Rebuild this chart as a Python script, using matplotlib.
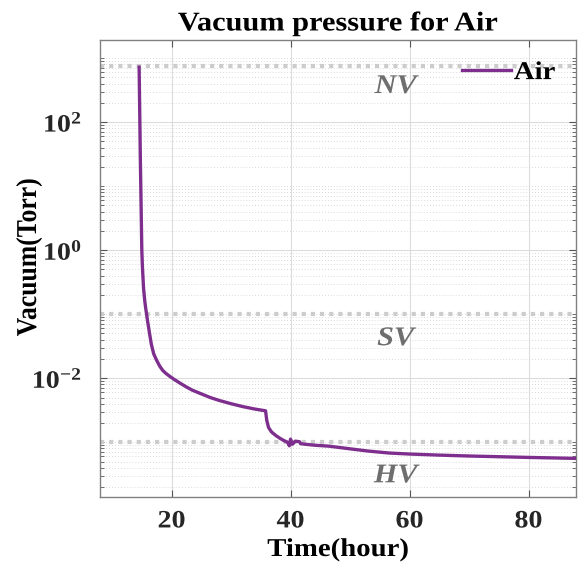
import numpy as np
import matplotlib
matplotlib.use("Agg")
import matplotlib.pyplot as plt
from matplotlib.ticker import LogLocator, NullFormatter
from matplotlib.patheffects import AbstractPathEffect
from matplotlib.transforms import Affine2D

# data (hours, Torr)
time_h = [14.55, 14.75, 15.0, 15.1, 15.3, 15.5, 15.65, 15.8, 16.0, 16.3, 16.6,
          17.0, 17.5, 18.0, 18.5, 19.0, 19.7, 20.5, 21.5, 22.5, 23.5, 25.0,
          26.5, 28.0, 30.0, 32.0, 34.0, 35.8, 36.0, 36.3, 36.8, 37.5, 38.3,
          39.0, 39.5, 39.8, 40.0, 40.3, 40.8, 41.5, 41.7, 42.5, 44.0, 46.4,
          50.0, 53.0, 56.5, 60.0, 65.0, 70.0, 75.0, 80.0, 84.0, 88.0]
pressure = [720, 28, 1.0, 0.55, 0.25, 0.16, 0.125, 0.1, 0.075, 0.05, 0.034,
            0.024, 0.019, 0.0155, 0.0133, 0.012, 0.0107, 0.0095, 0.0083, 0.0073,
            0.0065, 0.0057, 0.0050, 0.0045, 0.0040, 0.0036, 0.0033, 0.0031,
            0.0022, 0.0017, 0.00145, 0.00128, 0.00114, 0.00105, 0.00100, 0.00088,
            0.00112, 0.00093, 0.00104, 0.00102, 0.00095, 0.00093, 0.00090, 0.00087,
            0.00079, 0.00073, 0.00068, 0.000655, 0.00063, 0.00061, 0.000595,
            0.00058, 0.00057, 0.00056]

levels = [760, 0.1, 1e-3]
level_names = ["NV", "SV", "HV"]
level_label_y = [284, 0.0328, 2.37e-4]


class StretchX(AbstractPathEffect):
    # widen glyphs horizontally (the reference text looks stretched)
    def __init__(self, sx=1.12, anchor=0.5):
        super().__init__()
        self.sx = sx
        self.anchor = anchor

    def draw_path(self, renderer, gc, tpath, affine, rgbFace=None):
        ext = affine.transform_path(tpath).get_extents()
        x0 = ext.x0 + self.anchor * ext.width
        aff = affine + Affine2D().translate(-x0, 0).scale(self.sx, 1).translate(x0, 0)
        renderer.draw_path(gc, tpath, aff, rgbFace)


plt.rcParams["font.family"] = ["Liberation Serif", "DejaVu Serif"]
plt.rcParams["font.weight"] = "bold"

fig = plt.figure(figsize=(5.79, 5.66), dpi=100)
ax = fig.add_axes([0.173, 0.122, 0.822, 0.807])

wide = [StretchX()]

for lv in levels:
    ax.axhline(lv, color="#cccccc", linewidth=3, linestyle=(0, (1, 1.2)), zorder=1)
for name, yy in zip(level_names, level_label_y):
    ax.text(57.7, yy, name, color="#6e6e6e", fontsize=19.5, fontstyle="italic",
            fontweight="bold", ha="center", va="baseline", path_effects=wide)

ax.plot(time_h, pressure, color="#7E2F8E", linewidth=2.4, label="Air", zorder=3)

ax.set_yscale("log")
ax.set_xlim(8, 88)
ax.set_ylim(1.4e-4, 1900)
ax.set_xticks([20, 40, 60, 80])
ax.set_yticks([1e-2, 1, 1e2])
ax.yaxis.set_minor_locator(LogLocator(base=10, subs=np.arange(1, 10), numticks=20))
ax.yaxis.set_minor_formatter(NullFormatter())

ax.grid(True, which="major", color="#dcdcdc", linewidth=0.8)
ax.grid(True, which="minor", axis="y", color="#cfcfcf", linewidth=0.6, linestyle=(0, (1, 2.5)))
ax.set_axisbelow(True)

ax.tick_params(which="both", direction="in", top=True, right=True, color="#555555")
ax.tick_params(which="major", length=5, labelsize=18, labelcolor="#262626")
ax.tick_params(axis="x", which="major", pad=9)
ax.tick_params(axis="y", which="major", pad=13)
ax.tick_params(which="minor", length=3)
for s in ax.spines.values():
    s.set_color("#808080")
    s.set_linewidth(1.0)

ax.set_title("Vacuum pressure for Air", fontsize=19.5, fontweight="bold", pad=7,
             path_effects=wide)
ax.set_xlabel("Time(hour)", fontsize=18.5, fontweight="bold", labelpad=4,
              path_effects=wide)
ax.set_ylabel("Vacuum(Torr)", fontsize=18.5, fontweight="bold", path_effects=wide)
ax.yaxis.set_label_coords(-0.125, 0.525)

for t in ax.get_xticklabels():
    t.set_path_effects(wide)
for t in ax.get_yticklabels():
    t.set_path_effects([StretchX(anchor=1.0)])

leg = ax.legend(loc="center right", bbox_to_anchor=(0.952, 0.929), frameon=False,
                fontsize=18.5, handlelength=1.9, handletextpad=0.2,
                borderaxespad=0, borderpad=0)
for t in leg.get_texts():
    t.set_path_effects(wide)

fig.savefig("out.png", dpi=100)
